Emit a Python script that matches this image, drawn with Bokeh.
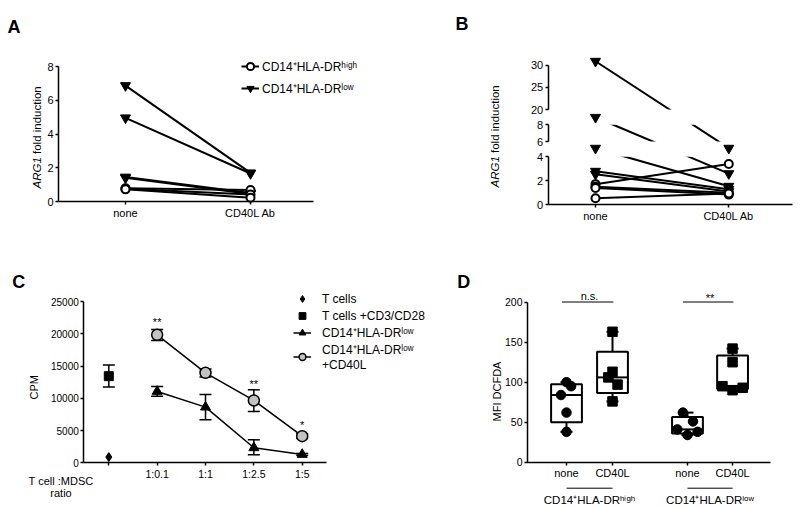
import math
import numpy as np
from bokeh.plotting import figure
from bokeh.models import (Range1d, LinearAxis, FixedTicker, Label, Legend, LegendItem,
                          ColumnDataSource, Whisker, TeeHead, CustomJSTransform)
from bokeh.layouts import row, column
from bokeh.transform import transform
from bokeh.core.properties import value
from bokeh.embed import file_html
from bokeh.resources import INLINE

FONT = "Liberation Sans"
HIGH = "CD14⁺HLA-DRʰⁱᵍʰ"
LOW = "CD14⁺HLA-DRˡᵒʷ"

# ---------------- data ----------------
# Panel A : ARG1 fold induction (paired, none -> CD40L Ab)
a_conditions = ["none", "CD40L Ab"]
a_high_none = [0.78, 0.75, 0.72]
a_high_cd40l = [0.68, 0.42, 0.22]
a_low_none = [6.87, 4.96, 1.45, 1.40]
a_low_cd40l = [1.70, 1.66, 0.50, 0.45]
a_yticks = [0, 2, 4, 6, 8]

# Panel B : ARG1 fold induction, broken axis
b_conditions = ["none", "CD40L Ab"]
b_high_none = [1.72, 1.50, 1.40, 0.55]
b_high_cd40l = [3.40, 1.00, 0.85, 0.95]
b_low_none = [30.9, 8.9, 5.2, 2.8, 2.55]
b_low_cd40l = [5.2, 2.6, 1.55, 1.3, 1.1]
b_ticks_low = [0, 2, 4]
b_ticks_mid = [6, 8]
b_ticks_top = [20, 25, 30]

# Panel C : CPM
c_ratios = ["", "1:0.1", "1:1", "1:2.5", "1:5"]
c_tcells = [880]
c_stim_mean = [13430]
c_stim_lo = [11730]
c_stim_hi = [15140]
c_low_mean = [11060, 8630, 2330, 1290]
c_low_lo = [10330, 6660, 1240, 1150]
c_low_hi = [11830, 10590, 3560, 1450]
c_cd40_mean = [19840, 13950, 9660, 4130]
c_cd40_lo = [18960, 13280, 7960, 3800]
c_cd40_hi = [20660, 14520, 11310, 4500]
c_sig_text = ["**", "**", "*"]
c_sig_ratio = ["1:0.1", "1:2.5", "1:5"]
c_sig_y = [21800, 12250, 5900]
c_yticks = [0, 5000, 10000, 15000, 20000, 25000]

# Panel D : MFI DCFDA
d_conditions = ["none", "CD40L", "none", "CD40L"]
d_groups = [HIGH, LOW]
d_high_none = [100, 95, 84, 62, 38]
d_high_cd40l = [163, 113, 106, 97, 76]
d_low_none = [62, 51, 41, 38, 34]
d_low_cd40l = [142, 125, 95, 93, 90]
d_sig_text = ["n.s.", "**"]
d_yticks = [0, 50, 100, 150, 200]

# ---------------- layout helpers ----------------
class Panel:
    def __init__(self, left, top, right, bottom, xmap, ymap):
        (self.xd0, self.xp0), (xd1, xp1) = xmap
        (self.yd0, self.yp0), (yd1, yp1) = ymap
        self.kx = (xd1 - self.xd0) / (xp1 - self.xp0)
        self.ky = (yd1 - self.yd0) / (yp1 - self.yp0)
        self.left, self.top, self.right, self.bottom = left, top, right, bottom
        p = figure(width=right - left, height=bottom - top,
                   x_range=Range1d(self.x(left), self.x(right)),
                   y_range=Range1d(self.y(bottom), self.y(top)),
                   x_axis_type=None, y_axis_type=None,
                   output_backend="svg", toolbar_location=None, min_border=0)
        p.outline_line_color = None
        p.background_fill_color = "white"
        p.border_fill_color = "white"
        self.p = p

    def x(self, px):
        return self.xd0 + (px - self.xp0) * self.kx

    def y(self, py):
        return self.yd0 + (py - self.yp0) * self.ky

    def label(self, px, py, text, size="11px", align="center", baseline="middle",
              angle=0.0, style="normal", data_x=None):
        xx = data_x if data_x is not None else self.x(px)
        self.p.add_layout(Label(x=xx, y=self.y(py), text=text, text_font=FONT,
                                text_font_size=size, text_align=align,
                                text_baseline=baseline, angle=angle,
                                text_font_style=style, text_color="black"))

    def axis(self, side, loc, bounds, ticks, overrides=None, range_name=None, size="11px"):
        ax = LinearAxis(fixed_location=loc, bounds=bounds, ticker=FixedTicker(ticks=ticks))
        if range_name:
            ax.y_range_name = range_name
        ax.axis_line_width = 1.5
        ax.axis_line_color = "black"
        ax.major_tick_line_width = 1.5
        ax.major_tick_line_color = "black"
        ax.major_tick_out = 3
        ax.major_tick_in = 0
        ax.minor_tick_out = 0
        ax.minor_tick_in = 0
        ax.major_label_text_font = FONT
        ax.major_label_text_font_size = size
        ax.major_label_text_color = "black"
        ax.major_label_standoff = 2
        if overrides:
            ax.major_label_overrides = overrides
        self.p.add_layout(ax, side)
        return ax

    def legend(self, items, page_x, page_top, height, **kw):
        lg = Legend(items=items, location=(page_x - self.left, self.bottom - (page_top + height)),
                    border_line_color=None, background_fill_alpha=0.0,
                    padding=0, margin=0, label_text_font=FONT,
                    label_text_color="black", **kw)
        self.p.add_layout(lg)
        return lg


# ================= Panel A =================
A = Panel(0, 0, 400, 230, xmap=((0, 125.0), (1, 250.0)), ymap=((0, 201.0), (8, 66.0)))
pa = A.p
a_x = list(range(len(a_conditions)))
srcA_hi = ColumnDataSource(dict(x0=[a_x[0]] * len(a_high_none), x1=[a_x[1]] * len(a_high_none),
                                y0=a_high_none, y1=a_high_cd40l))
srcA_lo = ColumnDataSource(dict(x0=[a_x[0]] * len(a_low_none), x1=[a_x[1]] * len(a_low_none),
                                y0=a_low_none, y1=a_low_cd40l))
segA_lo = pa.segment("x0", "y0", "x1", "y1", source=srcA_lo, line_color="black", line_width=2)
segA_hi = pa.segment("x0", "y0", "x1", "y1", source=srcA_hi, line_color="black", line_width=2)
mA_lo = pa.scatter(x=[a_x[0]] * len(a_low_none) + [a_x[1]] * len(a_low_cd40l),
                   y=a_low_none + a_low_cd40l, marker="inverted_triangle", size=10,
                   color="black")
mA_hi = pa.scatter(x=[a_x[0]] * len(a_high_none) + [a_x[1]] * len(a_high_cd40l),
                   y=a_high_none + a_high_cd40l, marker="circle", size=8,
                   fill_color="white", line_color="black", line_width=2)
A.axis("left", A.x(58), (0, 8), a_yticks)
A.axis("below", 0, (A.x(58), A.x(313)), a_x, overrides={i: c for i, c in zip(a_x, a_conditions)})
A.legend([LegendItem(label=HIGH, renderers=[segA_hi, mA_hi]),
          LegendItem(label=LOW, renderers=[segA_lo, mA_lo])],
         241, 55, 44, glyph_width=18, glyph_height=22, label_height=22, spacing=0,
         label_standoff=3, label_text_font_size="12px")
A.label(7, 26.7, "A", size="18px", align="left", baseline="alphabetic", style="bold")
A.label(36.7, 188, "ARG1", size="11.5px", align="left", angle=math.pi / 2, style="italic")
A.label(36.7, 188 - 34.5, "fold induction", size="11.5px", align="left", angle=math.pi / 2)

# ================= Panel B (broken axis) =================
B = Panel(400, 0, 800, 230, xmap=((0, 595.0), (1, 728.3)), ymap=((0, 204.3), (100, 104.3)))
pb = B.p
SEG = dict(b1=4.6, b2=14.0, s1=12.0, o2=63.3, s2=8.35, c2=6.0, o3=95.3, s3=4.43, c3=20.0)
brk = CustomJSTransform(args=SEG, func="""
    const v = x;
    if (v <= b1) return s1 * v;
    if (v <= b2) return o2 + s2 * (v - c2);
    return o3 + s3 * (v - c3);
""", v_func="""
    const out = new Array(xs.length);
    for (let i = 0; i < xs.length; i++) {
        const v = xs[i];
        out[i] = v <= b1 ? s1 * v : (v <= b2 ? o2 + s2 * (v - c2) : o3 + s3 * (v - c3));
    }
    return out;
""")
b_x = list(range(len(b_conditions)))
srcB_lo = ColumnDataSource(dict(x0=[b_x[0]] * len(b_low_none), x1=[b_x[1]] * len(b_low_none),
                                y0=b_low_none, y1=b_low_cd40l))
srcB_hi = ColumnDataSource(dict(x0=[b_x[0]] * len(b_high_none), x1=[b_x[1]] * len(b_high_none),
                                y0=b_high_none, y1=b_high_cd40l))
pb.segment("x0", transform("y0", brk), "x1", transform("y1", brk), source=srcB_lo,
           line_color="black", line_width=2)
pb.segment("x0", transform("y0", brk), "x1", transform("y1", brk), source=srcB_hi,
           line_color="black", line_width=2)
# gaps of the broken axis hide the connecting lines
xB_axis = B.x(547.7)
gap_src = ColumnDataSource(dict(lo=[b_ticks_low[-1], b_ticks_mid[-1]],
                                hi=[b_ticks_mid[0], b_ticks_top[0]]))
pb.quad(left=xB_axis + 0.02, right=B.x(800), bottom=transform("lo", brk),
        top=transform("hi", brk), source=gap_src, fill_color="white", line_color=None)
ptsB_lo = ColumnDataSource(dict(x=[b_x[0]] * len(b_low_none) + [b_x[1]] * len(b_low_cd40l),
                                v=b_low_none + b_low_cd40l))
ptsB_hi = ColumnDataSource(dict(x=[b_x[0]] * len(b_high_none) + [b_x[1]] * len(b_high_cd40l),
                                v=b_high_none + b_high_cd40l))
pb.scatter("x", transform("v", brk), source=ptsB_lo, marker="inverted_triangle", size=10,
           color="black")
pb.scatter("x", transform("v", brk), source=ptsB_hi, marker="circle", size=8,
           fill_color="white", line_color="black", line_width=2)
D0, D1 = pb.y_range.start, pb.y_range.end
pb.extra_y_ranges = {
    "r1": Range1d(D0 / SEG["s1"], D1 / SEG["s1"]),
    "r2": Range1d(SEG["c2"] + (D0 - SEG["o2"]) / SEG["s2"], SEG["c2"] + (D1 - SEG["o2"]) / SEG["s2"]),
    "r3": Range1d(SEG["c3"] + (D0 - SEG["o3"]) / SEG["s3"], SEG["c3"] + (D1 - SEG["o3"]) / SEG["s3"]),
}
B.axis("left", xB_axis, (b_ticks_low[0], b_ticks_low[-1]), b_ticks_low, range_name="r1")
B.axis("left", xB_axis, (b_ticks_mid[0], b_ticks_mid[-1]), b_ticks_mid, range_name="r2")
B.axis("left", xB_axis, (b_ticks_top[0], b_ticks_top[-1]), b_ticks_top, range_name="r3")
B.axis("below", 0, (xB_axis, B.x(791.7)), b_x, overrides={i: c for i, c in zip(b_x, b_conditions)})
B.label(455, 23.3, "B", size="18px", align="left", baseline="alphabetic", style="bold")
B.label(494, 187, "ARG1", size="11.5px", align="left", angle=math.pi / 2, style="italic")
B.label(494, 187 - 34.5, "fold induction", size="11.5px", align="left", angle=math.pi / 2)

# ================= Panel C =================
C = Panel(0, 230, 430, 507, xmap=((0, 108.3), (4, 301.7)), ymap=((0, 462.3), (25000, 301.0)))
pc = C.p
c_x = list(range(len(c_ratios)))
c_series_x = c_x[1:]
for base, lo, hi in ((c_x[:1], c_stim_lo, c_stim_hi), (c_series_x, c_low_lo, c_low_hi),
                     (c_series_x, c_cd40_lo, c_cd40_hi)):
    src = ColumnDataSource(dict(x=base, lo=lo, hi=hi))
    pc.add_layout(Whisker(source=src, base="x", lower="lo", upper="hi", dimension="height",
                          line_color="black", line_width=1.5, level="underlay",
                          upper_head=TeeHead(size=12, line_width=1.5, line_color="black"),
                          lower_head=TeeHead(size=12, line_width=1.5, line_color="black")))
lC_low = pc.line(c_series_x, c_low_mean, line_color="black", line_width=1.5)
lC_cd = pc.line(c_series_x, c_cd40_mean, line_color="black", line_width=1.5)
rC_t = pc.scatter(c_x[:1], c_tcells, marker="diamond", size=9, color="black")
rC_s = pc.scatter(c_x[:1], c_stim_mean, marker="square", size=9, color="black")
sC_low = pc.scatter(c_series_x, c_low_mean, marker="triangle", size=10, color="black")
sC_cd = pc.scatter(c_series_x, c_cd40_mean, marker="circle", size=11, fill_color="#c3c3c3",
                   line_color="black", line_width=1.5)
pc.text(x=[c_ratios.index(r) for r in c_sig_ratio], y=c_sig_y, text=c_sig_text,
        text_font=value(FONT), text_font_size="11px", text_align="center",
        text_baseline="middle", text_color="black")
C.axis("left", C.x(83.3), (0, 25000), c_yticks, size="10px")
C.axis("below", 0, (C.x(83.3), C.x(326)), c_x, overrides={i: r for i, r in zip(c_x, c_ratios)},
       size="10.5px")
C.legend([LegendItem(label="T cells", renderers=[rC_t]),
          LegendItem(label="T cells +CD3/CD28", renderers=[rC_s]),
          LegendItem(label=LOW, renderers=[lC_low, sC_low]),
          LegendItem(label=LOW + "\n+CD40L", renderers=[lC_cd, sC_cd])],
         293, 293, 79, glyph_width=18, glyph_height=17, label_height=17, spacing=0,
         label_standoff=11, label_text_font_size="12px")
C.label(11.7, 281.7, "C", size="18px", align="left", baseline="alphabetic", style="bold")
C.label(33.3, 386.7, "CPM", size="11px", angle=math.pi / 2)
C.label(60.5, 480, "T cell :MDSC", size="11px")
C.label(60.5, 492, "ratio", size="11px")

# ================= Panel D =================
D = Panel(430, 230, 800, 507, xmap=((1, 566.0), (2, 612.0)), ymap=((0, 461.7), (200, 301.7)))
pd_ = D.p
d_pos = [1.0, 2.0, 3.63, 4.61]          # category positions (layout)
d_jitter = [[0, 0.1, -0.12, 0, 0], [0, 0, -0.09, 0.11, 0],
            [-0.1, 0.12, -0.22, 0.22, 0], [0, 0, -0.22, 0.22, 0]]
d_values = [d_high_none, d_high_cd40l, d_low_none, d_low_cd40l]
q1 = [float(np.percentile(v, 25, method="weibull")) for v in d_values]
med = [float(np.median(v)) for v in d_values]
q3 = [float(np.percentile(v, 75, method="weibull")) for v in d_values]
vmin = [min(v) for v in d_values]
vmax = [max(v) for v in d_values]
BOXW = 0.67
src_up = ColumnDataSource(dict(x=d_pos, lo=q3, hi=vmax))
src_dn = ColumnDataSource(dict(x=d_pos, lo=vmin, hi=q1))
pd_.add_layout(Whisker(source=src_up, base="x", lower="lo", upper="hi", dimension="height",
                       line_color="black", line_width=2, level="underlay", lower_head=None,
                       upper_head=TeeHead(size=12, line_width=2, line_color="black")))
pd_.add_layout(Whisker(source=src_dn, base="x", lower="lo", upper="hi", dimension="height",
                       line_color="black", line_width=2, level="underlay", upper_head=None,
                       lower_head=TeeHead(size=12, line_width=2, line_color="black")))
pd_.vbar(x=d_pos, width=BOXW, bottom=q1, top=q3, fill_color="white", line_color="black",
         line_width=2)
pd_.segment(x0=[p - BOXW / 2 for p in d_pos], x1=[p + BOXW / 2 for p in d_pos], y0=med, y1=med,
            line_color="black", line_width=2)
for i, (vals, jit) in enumerate(zip(d_values, d_jitter)):
    pd_.scatter([d_pos[i] + j for j in jit], vals,
                marker="circle" if d_conditions[i] == "none" else "square",
                size=9.5, color="black")
# significance bars
sig_x0 = [d_pos[0] - 0.1, d_pos[2] - 0.1]
sig_x1 = [d_pos[1] + 0.02, d_pos[3] + 0.02]
sig_y = D.y(301.5)
pd_.segment(x0=sig_x0, x1=sig_x1, y0=[sig_y] * 2, y1=[sig_y] * 2, line_color="black",
            line_width=1)
for k, t in enumerate(d_sig_text):
    D.label(0, 295 if t == "n.s." else 297, t, size="11px",
            data_x=(d_pos[2 * k] + d_pos[2 * k + 1]) / 2)
# group lines and labels below axis
gy = D.y(487.7)
pd_.segment(x0=[d_pos[0], d_pos[2]], x1=[d_pos[1], d_pos[3]], y0=[gy] * 2, y1=[gy] * 2,
            line_color="black", line_width=1)
for k, g in enumerate(d_groups):
    D.label(0, 499, g, size="11.5px", baseline="alphabetic",
            data_x=(d_pos[2 * k] + d_pos[2 * k + 1]) / 2)
D.axis("left", D.x(527), (0, 200), d_yticks, size="10.5px")
D.axis("below", 0, (D.x(527), D.x(770)), d_pos,
       overrides={p: c for p, c in zip(d_pos, d_conditions)}, size="11px")
D.label(456.7, 281.7, "D", size="18px", align="left", baseline="alphabetic", style="bold")
D.label(496, 391, "MFI DCFDA", size="11px", angle=math.pi / 2)

layout = column(row(pa, pb), row(pc, pd_))
open("out.html", "w").write(file_html(layout, INLINE))
